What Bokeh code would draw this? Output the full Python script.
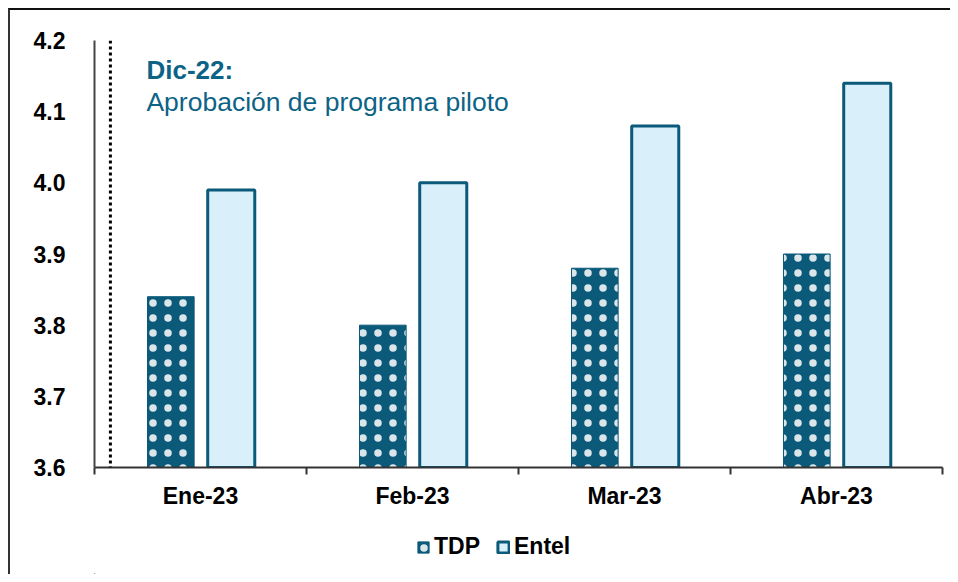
from bokeh.plotting import figure
from bokeh.layouts import column
from bokeh.models import (ColumnDataSource, FixedTicker, Span, Label, Legend,
                          LegendItem, NumeralTickFormatter)
from bokeh.embed import file_html
from bokeh.resources import INLINE

# ---- data ----
months = ["Ene-23", "Feb-23", "Mar-23", "Abr-23"]
tdp = [3.84, 3.80, 3.88, 3.90]
entel = [3.99, 4.00, 4.08, 4.14]
y_ticks = [3.6, 3.7, 3.8, 3.9, 4.0, 4.1, 4.2]
series_names = ["TDP", "Entel"]
note_title = "Dic-22:"
note_text = "Aprobación de programa piloto"

TEAL = "#0b5a7a"
LIGHT = "#d9effa"
NOTE = "#0d6386"
FONT = "Liberation Sans"

TDP_STYLE = dict(fill_color=TEAL, line_color=TEAL, line_width=1,
                 hatch_pattern="dot", hatch_color="white", hatch_scale=15,
                 hatch_weight=0.65, hatch_alpha=0.85)
ENTEL_STYLE = dict(fill_color=LIGHT, line_color=TEAL, line_width=3)

centers = [i + 0.5 for i in range(len(months))]
src = ColumnDataSource(dict(
    x_tdp=[c - 0.14 for c in centers],
    x_entel=[c + 0.145 for c in centers],
    tdp=tdp, entel=entel,
))

p = figure(width=940, height=510, output_backend="svg", toolbar_location=None,
           x_range=(0, len(months)), y_range=(y_ticks[0], y_ticks[-1]),
           min_border_left=84, min_border_right=8, min_border_top=30,
           min_border_bottom=53)
p.outline_line_color = None
p.xgrid.visible = False
p.ygrid.visible = False

p.vbar(x="x_tdp", top="tdp", bottom=y_ticks[0], width=0.22, source=src,
       **TDP_STYLE)
p.vbar(x="x_entel", top="entel", bottom=y_ticks[0], width=0.222, source=src,
       **ENTEL_STYLE)

# dotted reference line
p.add_layout(Span(location=0.075, dimension="height", line_color="black",
                  line_width=3, line_dash="3 3"))

# annotation
p.add_layout(Label(x=0.245, y=4.158, text=note_title, text_font=FONT,
                   text_font_size="26px", text_font_style="bold",
                   text_color=NOTE, text_baseline="middle"))
p.add_layout(Label(x=0.245, y=4.113, text=note_text, text_font=FONT,
                   text_font_size="26.5px", text_color=NOTE,
                   text_baseline="middle"))

# y axis
ya = p.yaxis[0]
ya.ticker = FixedTicker(ticks=y_ticks)
ya.formatter = NumeralTickFormatter(format="0.0")
ya.major_tick_out = 0
ya.major_tick_in = 0
ya.minor_tick_out = 0
ya.minor_tick_in = 0
ya.axis_line_color = "#444"
ya.axis_line_width = 2
ya.major_label_standoff = 29
ya.major_label_text_font = FONT
ya.major_label_text_font_size = "23px"
ya.major_label_text_font_style = "bold"
ya.major_label_text_color = "black"

# x axis
xa = p.xaxis[0]
xa.ticker = FixedTicker(ticks=centers, minor_ticks=list(range(len(months) + 1)))
xa.major_label_overrides = {c: m for c, m in zip(centers, months)}
xa.major_tick_out = 0
xa.major_tick_in = 0
xa.minor_tick_out = 7
xa.minor_tick_in = 0
xa.minor_tick_line_color = "#333"
xa.minor_tick_line_width = 2
xa.axis_line_color = "#333"
xa.axis_line_width = 2
xa.major_label_standoff = 8
xa.major_label_text_font = FONT
xa.major_label_text_font_size = "23px"
xa.major_label_text_font_style = "bold"
xa.major_label_text_color = "black"

# ---- legend strip (proxy bars sit far outside the visible range) ----
lg = figure(width=940, height=54, output_backend="svg", toolbar_location=None,
            x_range=(0, 1), y_range=(0, 1), min_border=0)
lg.axis.visible = False
lg.xgrid.visible = False
lg.ygrid.visible = False
lg.outline_line_color = None
l_tdp = lg.vbar(x=[-5], top=[-5], bottom=-6, width=0.1, **TDP_STYLE)
l_entel = lg.vbar(x=[-5], top=[-5], bottom=-6, width=0.1, **ENTEL_STYLE)
legend = Legend(items=[LegendItem(label=series_names[0], renderers=[l_tdp]),
                       LegendItem(label=series_names[1], renderers=[l_entel])],
                orientation="horizontal", location=(322, 14),
                border_line_color=None, background_fill_alpha=0,
                label_text_font=FONT, label_text_font_size="23px",
                label_text_font_style="bold", label_text_color="black",
                glyph_width=14, glyph_height=14,
                spacing=16, label_standoff=4, padding=0, margin=0)
lg.add_layout(legend, "center")

layout = column(p, lg, spacing=0)
layout.styles = {"border-top": "2px solid #111", "border-left": "2px solid #333",
                 "margin-top": "8px", "margin-left": "8px"}

open("out.html", "w").write(file_html(layout, INLINE))
